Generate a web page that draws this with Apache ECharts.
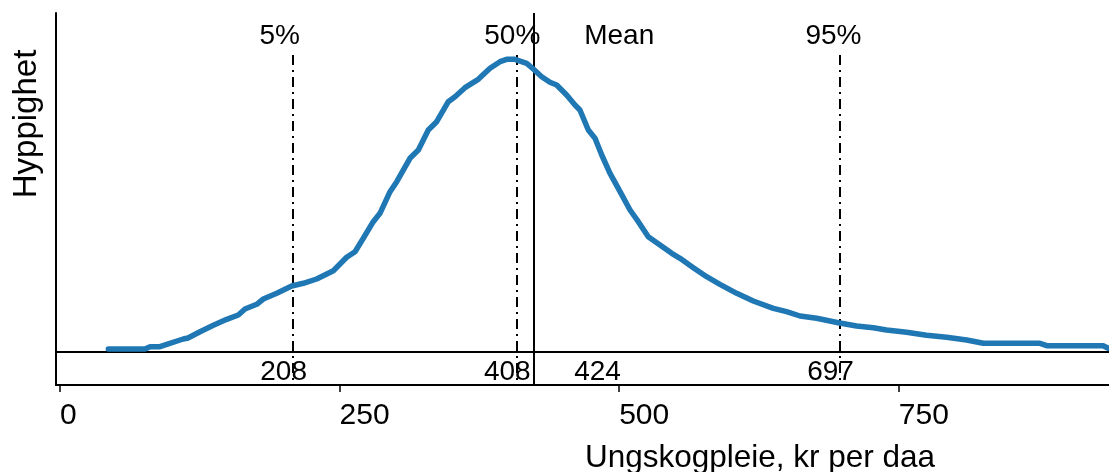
<!DOCTYPE html>
<html><head><meta charset="utf-8">
<script src="https://cdn.jsdelivr.net/npm/echarts@6/dist/echarts.min.js"></script>
<style>html,body{margin:0;padding:0;background:#fff}#c{width:1109px;height:472px}</style>
</head><body><div id="c"></div>
<script>
// Kernel density curve (x = kr per daa, y = relative frequency, arbitrary units)
const densityX = [43.2, 76.0, 80.5, 89.4, 95.4, 110.2, 114.4, 125.2, 137.1, 149.1, 159.4, 165.4, 175.9, 181.8, 193.8, 207.2, 217.5, 229.5, 244.4, 256.3, 263.8, 271.2, 280.1, 286.1, 295.1, 301.1, 312.9, 320.4, 329.3, 336.8, 347.2, 353.2, 362.1, 374.0, 384.5, 393.4, 399.4, 406.8, 417.3, 423.2, 430.7, 438.1, 444.1, 453.0, 460.5, 464.9, 472.4, 478.4, 484.4, 491.8, 499.2, 509.7, 517.1, 526.0, 536.5, 547.0, 554.4, 566.3, 578.2, 590.1, 605.1, 619.9, 637.8, 649.7, 661.7, 676.6, 695.9, 712.3, 727.2, 739.1, 757.0, 774.9, 792.8, 810.7, 825.6, 876.3, 882.3, 932.8, 937.3];
const densityY = [2.5, 2.5, 4.8, 4.8, 7.2, 12.5, 13.5, 19.8, 26.2, 32.2, 36.5, 42.5, 47.2, 52.5, 58.2, 65.5, 68.2, 72.5, 80.8, 94.2, 99.8, 113.2, 129.8, 138.2, 159.8, 169.8, 193.2, 201.5, 221.5, 229.8, 249.8, 254.8, 263.8, 272.2, 283.2, 289.8, 292.2, 292.2, 288.2, 282.5, 274.8, 269.2, 266.5, 256.5, 246.5, 241.5, 221.5, 213.2, 196.5, 178.2, 163.2, 141.5, 129.8, 114.8, 106.5, 98.2, 93.2, 83.8, 74.8, 67.2, 58.2, 50.5, 43.2, 39.8, 35.5, 33.2, 28.8, 25.5, 23.8, 21.5, 19.2, 16.2, 14.2, 11.5, 8.2, 8.2, 5.8, 5.8, 3.2];
const xTicks = [0, 250, 500, 750];
const pctNames = ['5%', '50%', '95%'];
const pctValues = [208, 408, 697];
const meanName = 'Mean';
const meanValue = 424;
const xTitle = 'Ungskogpleie, kr per daa';
const yTitle = 'Hyppighet';

// layout / style constants
const X_MIN = -3.6, X_MAX = 938, Y_MIN = -33.5, Y_MAX = 338.5;
const DASH_TOP = 296.5, TOP_LABEL_Y = 315, BOTTOM_LABEL_Y = -20.5;
const TOP_LABEL_DX = [-13, -4, -6];
const FONT = 'Liberation Sans, Arial, Helvetica, sans-serif';
const DASHDOT = [10, 5, 2, 5];

const chart = echarts.init(document.getElementById('c'), null, {renderer: 'canvas'});

const curve = densityX.map((x, i) => [x, densityY[i]]);

const labelItems = [];
pctValues.forEach((v, i) => {
  labelItems.push({value: [v, TOP_LABEL_Y], name: pctNames[i],
    label: {offset: [TOP_LABEL_DX[i], 0]}});
  labelItems.push({value: [v, BOTTOM_LABEL_Y], name: String(v),
    label: {offset: [-9, 0]}});
});
labelItems.push({value: [meanValue, TOP_LABEL_Y], name: meanName,
  label: {align: 'left', offset: [50, 0]}});
labelItems.push({value: [meanValue, BOTTOM_LABEL_Y], name: String(meanValue),
  label: {align: 'left', offset: [40, 0]}});

const vLines = pctValues.map(v => [
  {coord: [v, DASH_TOP], lineStyle: {type: DASHDOT, width: 2, color: '#000'}},
  {coord: [v, Y_MIN]}
]);
vLines.push([
  {coord: [meanValue, Y_MAX], lineStyle: {type: 'solid', width: 2, color: '#000'}},
  {coord: [meanValue, Y_MIN]}
]);

chart.setOption({
  animation: false,
  backgroundColor: '#fff',
  grid: {left: 56, right: 0, top: 13, bottom: 87},
  xAxis: {
    type: 'value', min: X_MIN, max: X_MAX,
    axisLine: {show: true, onZero: false, lineStyle: {color: '#000', width: 2}},
    axisTick: {show: true, length: 7, customValues: xTicks, lineStyle: {color: '#000', width: 1.5}},
    axisLabel: {show: true, customValues: xTicks, align: 'left', margin: 16,
      fontFamily: FONT, fontSize: 30, color: '#000'},
    splitLine: {show: false}
  },
  yAxis: {
    type: 'value', min: Y_MIN, max: Y_MAX,
    axisLine: {show: true, onZero: false, lineStyle: {color: '#000', width: 2}},
    axisTick: {show: false}, axisLabel: {show: false}, splitLine: {show: false}
  },
  graphic: [
    {type: 'text', x: 27, y: 124, rotation: Math.PI / 2,
      style: {text: yTitle, fontFamily: FONT, fontSize: 33, fill: '#000', align: 'center', verticalAlign: 'middle'}},
    {type: 'text', x: 760, y: 458,
      style: {text: xTitle, fontFamily: FONT, fontSize: 31.5, fill: '#000', align: 'center', verticalAlign: 'middle'}}
  ],
  series: [
    {
      type: 'line', data: curve, showSymbol: false, smooth: false, z: 5,
      lineStyle: {color: '#1f77b4', width: 5.5, cap: 'round', join: 'round'},
      markLine: {silent: true, symbol: 'none', label: {show: false},
        lineStyle: {color: '#000', width: 2, type: 'solid'},
        data: [{yAxis: 0}]}
    },
    {
      type: 'scatter', data: labelItems, symbolSize: 0, z: 6,
      itemStyle: {opacity: 1},
      label: {show: true, position: 'inside', formatter: p => p.name,
        fontFamily: FONT, fontSize: 28, color: '#000', opacity: 1},
      markLine: {silent: true, symbol: 'none', label: {show: false}, data: vLines}
    }
  ]
});
</script></body></html>
